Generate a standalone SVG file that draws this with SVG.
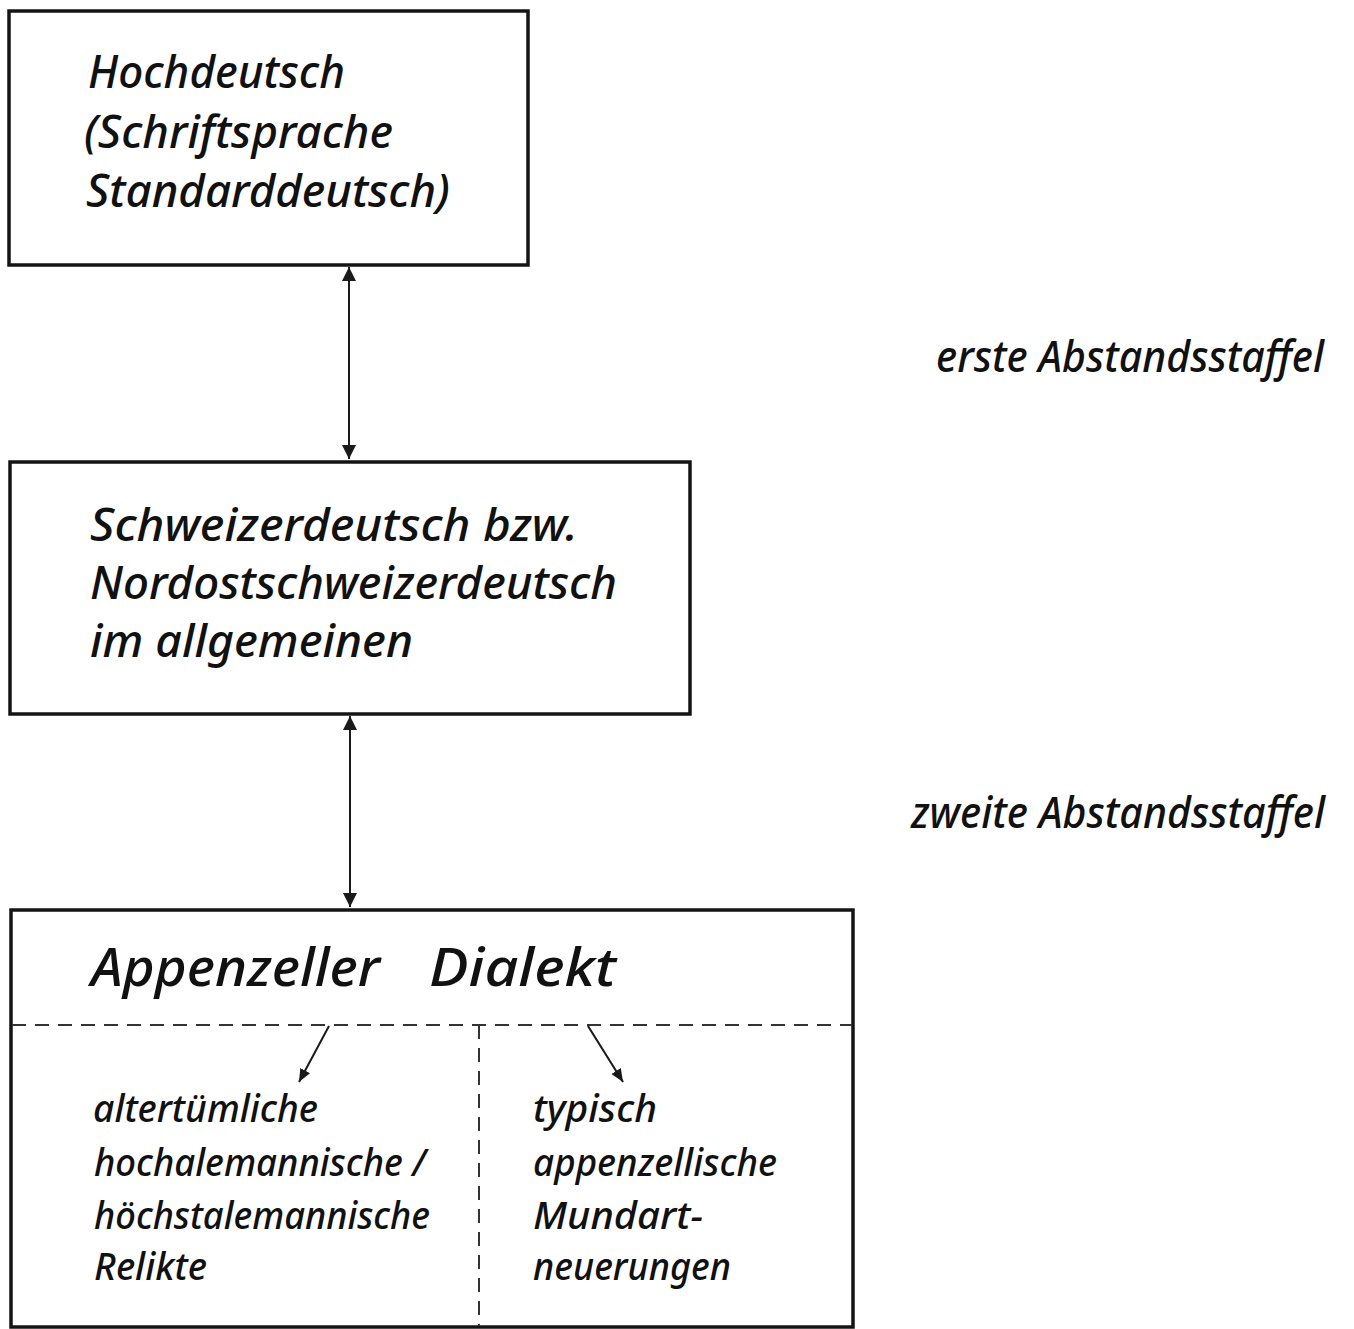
<svg xmlns="http://www.w3.org/2000/svg" width="1354" height="1329" viewBox="0 0 1354 1329">
<style>
.box{fill:#fff;stroke:#141414;stroke-width:3.5}
.t{font-family:"Noto Sans","Liberation Sans",sans-serif;font-style:italic;font-weight:500;fill:#111}
.big{font-size:46px}
.title{font-size:52px}
.small{font-size:38px}
.side{font-size:44px}
.conn{stroke:#1a1a1a;stroke-width:2;fill:none}
.dash{stroke:#333;stroke-width:2;fill:none;stroke-dasharray:14 9}
</style>
<defs>
<marker id="ah" viewBox="0 0 14 14" refX="14" refY="7" markerWidth="14" markerHeight="14" markerUnits="userSpaceOnUse" orient="auto-start-reverse">
<path d="M0,0 L14,7 L0,14 Z" fill="#1a1a1a"/>
</marker>
<marker id="ahs" viewBox="0 0 13 12" refX="13" refY="6" markerWidth="13" markerHeight="12" markerUnits="userSpaceOnUse" orient="auto">
<path d="M0,0.5 L13,6 L0,11.5 Z" fill="#1a1a1a"/>
</marker>
</defs>
<rect width="1354" height="1329" fill="#fff"/>
<g id="node-hochdeutsch">
<rect class="box" x="9" y="11" width="519" height="254"/>
<text class="t big" x="88" y="88" textLength="257" lengthAdjust="spacingAndGlyphs">Hochdeutsch</text>
<text class="t big" x="84" y="148" textLength="309" lengthAdjust="spacingAndGlyphs">(Schriftsprache</text>
<text class="t big" x="86" y="207" textLength="364" lengthAdjust="spacingAndGlyphs">Standarddeutsch)</text>
</g>
<g id="node-schweizerdeutsch">
<rect class="box" x="10" y="462" width="680" height="252"/>
<text class="t big" x="90" y="541" textLength="488" lengthAdjust="spacingAndGlyphs">Schweizerdeutsch bzw.</text>
<text class="t big" x="90" y="599" textLength="527" lengthAdjust="spacingAndGlyphs">Nordostschweizerdeutsch</text>
<text class="t big" x="90" y="657" textLength="323" lengthAdjust="spacingAndGlyphs">im allgemeinen</text>
</g>
<g id="node-appenzeller">
<rect class="box" x="11" y="910" width="842" height="417"/>
<text class="t title" y="986"><tspan x="91" textLength="289" lengthAdjust="spacingAndGlyphs">Appenzeller</tspan> <tspan x="429" textLength="187" lengthAdjust="spacingAndGlyphs">Dialekt</tspan></text>
<line class="dash" x1="12" y1="1025" x2="852" y2="1025"/>
<line class="dash" x1="479" y1="1025" x2="479" y2="1326"/>
<text class="t small" x="93" y="1122" textLength="225" lengthAdjust="spacingAndGlyphs">altertümliche</text>
<text class="t small" x="94" y="1176" textLength="332" lengthAdjust="spacingAndGlyphs">hochalemannische /</text>
<text class="t small" x="94" y="1229" textLength="336" lengthAdjust="spacingAndGlyphs">höchstalemannische</text>
<text class="t small" x="94" y="1280" textLength="113" lengthAdjust="spacingAndGlyphs">Relikte</text>
<text class="t small" x="533" y="1122" textLength="124" lengthAdjust="spacingAndGlyphs">typisch</text>
<text class="t small" x="533" y="1176" textLength="244" lengthAdjust="spacingAndGlyphs">appenzellische</text>
<text class="t small" x="533" y="1229" textLength="170" lengthAdjust="spacingAndGlyphs">Mundart-</text>
<text class="t small" x="533" y="1280" textLength="198" lengthAdjust="spacingAndGlyphs">neuerungen</text>
</g>
<g id="label-erste">
<text class="t side" x="936" y="372" textLength="388" lengthAdjust="spacingAndGlyphs">erste Abstandsstaffel</text>
</g>
<g id="label-zweite">
<text class="t side" x="911" y="828" textLength="414" lengthAdjust="spacingAndGlyphs">zweite Abstandsstaffel</text>
</g>
<g id="connectors">
<line class="conn" x1="349" y1="267" x2="349" y2="459" marker-start="url(#ah)" marker-end="url(#ah)"/>
<line class="conn" x1="350" y1="716" x2="350" y2="907" marker-start="url(#ah)" marker-end="url(#ah)"/>
<line class="conn" x1="329" y1="1026" x2="299" y2="1082" marker-end="url(#ahs)"/>
<line class="conn" x1="588" y1="1026" x2="623" y2="1082" marker-end="url(#ahs)"/>
</g>
</svg>
